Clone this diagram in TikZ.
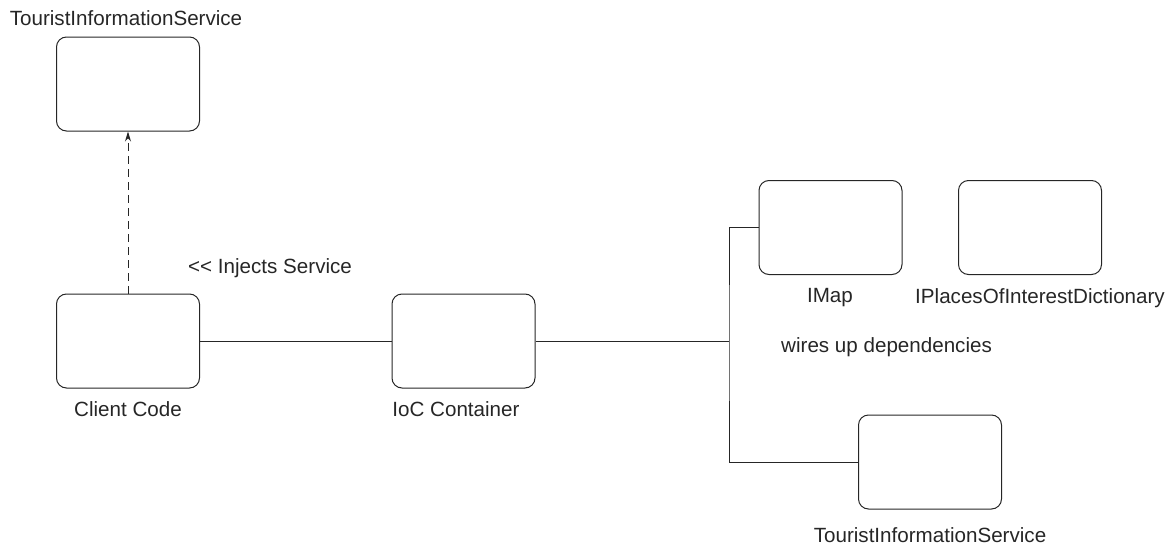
\documentclass[tikz,border=0pt]{standalone}
\usepackage{fontspec}
\setmainfont{Liberation Sans}
\usetikzlibrary{arrows.meta}
\definecolor{ink}{gray}{0.15}
\begin{document}
\begin{tikzpicture}[x=1pt,y=-1pt,
  comp/.style={draw=ink, line width=1pt, rounded corners=10pt, minimum width=143pt, minimum height=94pt, inner sep=0pt},
  lbl/.style={text=ink, font=\fontsize{20.6}{23}\selectfont, inner sep=0pt},
  wire/.style={draw=ink, line width=1pt},
  dep/.style={draw=ink, line width=1pt, dash pattern=on 8pt off 5pt, -{Stealth[length=10pt,width=6pt]}}]
\useasboundingbox (0,0) rectangle (1171,546);
% components
\node[comp] (tisTop) at (128,84) {};
\node[comp] (client) at (128,341) {};
\node[comp] (ioc) at (463.5,341) {};
\node[comp] (imap) at (830.5,227.5) {};
\node[comp] (places) at (1030,227.5) {};
\node[comp] (tisBot) at (930,462) {};
% labels
\node[lbl] (tisTopL) at (126,18) {TouristInformationService};
\node[lbl] (clientL) at (128,409) {Client Code};
\node[lbl] (iocL) at (456,409) {IoC Container};
\node[lbl] (imapL) at (830,298) {IMap};
\node[lbl] (placesL) at (1040,298) {IPlacesOfInterestDictionary};
\node[lbl] (tisBotL) at (930,535) {TouristInformationService};
\node[lbl, anchor=west] (inj) at (188,268) {{<}{<} Injects Service};
\node[lbl, anchor=west] (wires) at (781,347) {wires up dependencies};
% connectors
\coordinate (bus) at (729,341);
\draw[wire] (client.east) -- (ioc.west);
\draw[wire] (ioc.east) -- (bus);
\draw[wire] (imap.west) -| (bus) |- (tisBot.west);
\draw[dep] (client.north) -- (tisTop.south);
\end{tikzpicture}
\end{document}
